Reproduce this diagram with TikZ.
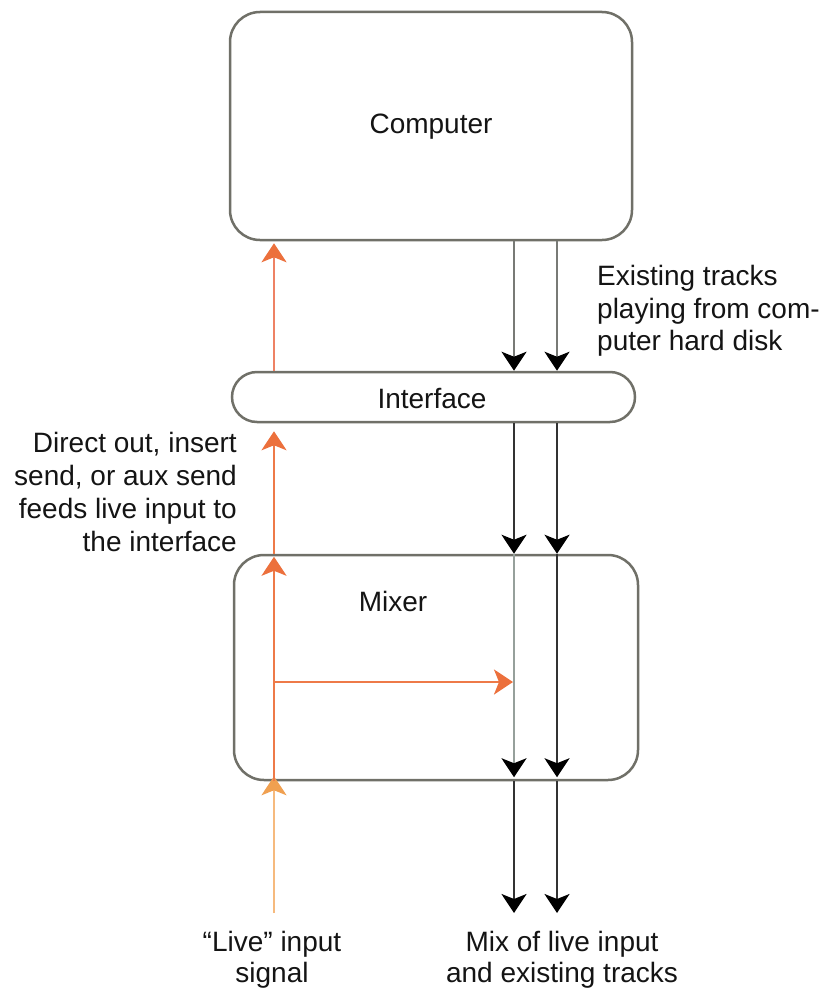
\documentclass[tikz,border=0pt]{standalone}
\usepackage{fontspec}
\setmainfont{Liberation Sans}
\usetikzlibrary{arrows.meta}
\definecolor{boxgray}{RGB}{112,112,104}
\definecolor{txt}{RGB}{20,20,20}
\definecolor{salmon}{RGB}{238,130,100}
\definecolor{orng}{RGB}{238,122,72}
\definecolor{lightorng}{RGB}{246,186,126}
\definecolor{tipor}{RGB}{236,112,60}
\definecolor{tiplo}{RGB}{240,160,80}
\definecolor{wire}{RGB}{50,50,50}
\definecolor{wiregray}{RGB}{120,122,118}
\definecolor{wirepale}{RGB}{150,160,155}
\begin{document}
\begin{tikzpicture}[x=1pt,y=-1pt,
  box/.style={draw=boxgray, line width=2.5pt, inner sep=0pt},
  lbl/.style={text=txt, font=\fontsize{28}{32.7}\selectfont, inner sep=0pt},
  orangearrow/.style={line width=2.3pt, -{Stealth[length=19pt,width=25pt,inset=5pt,fill=tipor,color=tipor]}},
  blackarrow/.style={line width=2.2pt, -{Stealth[length=19pt,width=25pt,inset=5pt,fill=black,color=black]}}
]
\useasboundingbox (0,0) rectangle (831,990);
\fill[white] (0,0) rectangle (831,990);

% boxes
\node[box, rounded corners=30pt, minimum width=402pt, minimum height=228pt] (computer) at (431,126) {};
\node[box, rounded corners=25pt, minimum width=403pt, minimum height=50pt] (interface) at (433.5,397) {};
\node[box, rounded corners=30pt, minimum width=404pt, minimum height=225pt] (mixer) at (436,667.5) {};

\node[lbl] (computerlabel) at (431,127) {Computer};
\node[lbl] (interfacelabel) at (432,399) {Interface};
\node[lbl] (mixerlabel) at (393,601) {Mixer};

% coordinates
\coordinate (livein) at (274,913);
\coordinate (tap) at (274,682);
\coordinate (sumpt) at (513,682);
\coordinate (outA) at (514,913);
\coordinate (outB) at (557,913);
\coordinate (colA) at (514,0);
\coordinate (colB) at (557,0);

% orange live signal path
\draw[orangearrow, draw=lightorng, -{Stealth[length=19pt,width=25pt,inset=5pt,fill=tiplo,color=tiplo]}]
  (livein) -- ([yshift=5pt]livein |- mixer.south);
\draw[orangearrow, draw=orng] (livein |- mixer.south) -- ([yshift=-3pt]livein |- mixer.north);
\draw[orangearrow, draw=orng] (livein |- mixer.north) -- ([yshift=-8pt]livein |- interface.south);
\draw[orangearrow, draw=salmon] (livein |- interface.north) -- ([yshift=-2pt]livein |- computer.south);
\draw[orangearrow, draw=orng] (tap) -- (sumpt);

% black track paths
\draw[blackarrow, draw=wiregray] (colA |- computer.south) -- (colA |- interface.north);
\draw[blackarrow, draw=wiregray] (colB |- computer.south) -- (colB |- interface.north);
\draw[blackarrow, draw=wire] (colA |- interface.south) -- (colA |- mixer.north);
\draw[blackarrow, draw=wire] (colB |- interface.south) -- (colB |- mixer.north);
\draw[blackarrow, draw=wirepale] (colA |- mixer.north) -- ([yshift=4pt]colA |- mixer.south);
\draw[blackarrow, draw=wire] (colB |- mixer.north) -- ([yshift=4pt]colB |- mixer.south);
\draw[blackarrow, draw=wire] (colA |- mixer.south) -- (outA);
\draw[blackarrow, draw=wire] (colB |- mixer.south) -- (outB);

% labels
\node[lbl, align=left, anchor=west] (existing) at (597,311) {Existing tracks\\playing from com-\\puter hard disk};
\node[lbl, align=right, anchor=east] (direct) at (237,492) {Direct out, insert\\send, or aux send\\feeds live input to\\the interface};
\node[lbl, align=center, font=\fontsize{28}{31}\selectfont] (livelabel) at (272,960) {“Live” input\\signal};
\node[lbl, align=center, font=\fontsize{28}{31}\selectfont] (mixlabel) at (562,960) {Mix of live input\\and existing tracks};
\end{tikzpicture}
\end{document}
